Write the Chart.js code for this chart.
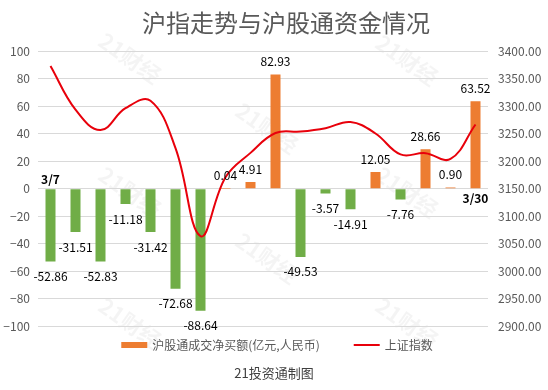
<!DOCTYPE html>
<html>
<head>
<meta charset="utf-8">
<script src="https://cdn.jsdelivr.net/npm/chart.js@4.4.1/dist/chart.umd.min.js"></script>
<style>
  html, body { margin: 0; padding: 0; background: #fff; }
  #wrap { width: 548px; height: 390px; position: relative; }
</style>
</head>
<body>
<div id="wrap"><canvas id="chart"></canvas></div>
<script>
// =============================================================================
// DATA
// =============================================================================

const dates = ['3/7', '3/8', '3/9', '3/10', '3/11', '3/14', '3/15', '3/16', '3/17',
  '3/18', '3/21', '3/22', '3/23', '3/24', '3/25', '3/28', '3/29', '3/30'];

// 沪股通成交净买额 (亿元)
const netBuy = [-52.86, -31.51, -52.83, -11.18, -31.42, -72.68, -88.64, 0.04, 4.91,
  82.93, -49.53, -3.57, -14.91, 12.05, -7.76, 28.66, 0.90, 63.52];

// 上证指数 close
const shIndex = [3372.86, 3293.53, 3256.39, 3296.09, 3309.75, 3223.53, 3063.97, 3170.71, 3215.04,
  3251.07, 3253.69, 3259.86, 3271.03, 3250.26, 3212.24, 3214.50, 3203.94, 3266.60];

const leftTicks = [-100, -80, -60, -40, -20, 0, 20, 40, 60, 80, 100];
const rightTicks = [2900, 2950, 3000, 3050, 3100, 3150, 3200, 3250, 3300, 3350, 3400];

const seriesNames = ['沪股通成交净买额(亿元,人民币)', '上证指数'];
const titleText = '沪指走势与沪股通资金情况';
const footerText = '21投资通制图';
const watermarkText = '21财经';

// =============================================================================
// STYLE
// =============================================================================

const FONT = '"Microsoft YaHei", "Noto Sans CJK SC", "Liberation Sans", sans-serif';
const GREEN = '#70AD47';
const ORANGE = '#ED7D31';
const RED = '#E8000B';
const AXIS_TEXT = '#595959';
const GRID = '#D9D9D9';

Chart.defaults.font.family = FONT;

// =============================================================================
// PLUGIN: watermark, title, bar value labels, first/last date, legend
// =============================================================================

const decorPlugin = {
  id: 'decor',
  beforeDraw(chart) {
    const ctx = chart.ctx;
    const spots = [[130, 58], [407, 60], [267, 128], [130, 192], [407, 192], [267, 258], [130, 323], [407, 323]];
    ctx.save();
    ctx.fillStyle = 'rgba(0,0,0,0.045)';
    ctx.font = 'bold 22px ' + FONT;
    ctx.textAlign = 'center';
    ctx.textBaseline = 'middle';
    spots.forEach(([x, y]) => {
      ctx.save();
      ctx.translate(x, y);
      ctx.rotate(35 * Math.PI / 180);
      ctx.fillText(watermarkText, 0, 0);
      ctx.restore();
    });

    // title (sits a little right of the canvas centre in the original)
    ctx.fillStyle = AXIS_TEXT;
    ctx.font = '24px ' + FONT;
    ctx.fillText(titleText, 286, 23);
    ctx.restore();
  },
  afterDatasetsDraw(chart) {
    const ctx = chart.ctx;
    const meta = chart.getDatasetMeta(1);
    ctx.save();
    ctx.font = '12px ' + FONT;
    ctx.fillStyle = '#000';
    ctx.textAlign = 'center';
    ctx.textBaseline = 'middle';
    meta.data.forEach((el, i) => {
      const v = netBuy[i];
      const y = v >= 0 ? el.y - 13 : el.y + 15;
      ctx.fillText(v.toFixed(2), el.x, y);
    });

    // first / last date labels
    const xs = chart.scales.x, ys = chart.scales.y;
    const zero = ys.getPixelForValue(0);
    ctx.font = 'bold 12px ' + FONT;
    ctx.fillText(dates[0], xs.getPixelForValue(0), zero - 9);
    ctx.fillText(dates[dates.length - 1], xs.getPixelForValue(dates.length - 1), zero + 10);
    ctx.restore();
  },
  afterDraw(chart) {
    const ctx = chart.ctx;
    ctx.save();
    ctx.font = '12px ' + FONT;
    ctx.textBaseline = 'middle';
    ctx.textAlign = 'left';
    const w1 = ctx.measureText(seriesNames[0]).width;
    const w2 = ctx.measureText(seriesNames[1]).width;
    const total = 26 + 5 + w1 + 34 + 26 + 5 + w2;
    let x = 277 - total / 2;
    const y = 345;
    ctx.fillStyle = ORANGE;
    ctx.fillRect(x, y - 3, 26, 6);
    ctx.fillStyle = AXIS_TEXT;
    ctx.fillText(seriesNames[0], x + 31, y);
    x += 31 + w1 + 34;
    ctx.strokeStyle = RED;
    ctx.lineWidth = 2;
    ctx.beginPath();
    ctx.moveTo(x, y);
    ctx.lineTo(x + 26, y);
    ctx.stroke();
    ctx.fillText(seriesNames[1], x + 31, y);
    ctx.restore();
  }
};

// =============================================================================
// CHART
// =============================================================================

new Chart(document.getElementById('chart'), {
  data: {
    labels: dates,
    datasets: [
      {
        type: 'line',
        label: seriesNames[1],
        data: shIndex,
        yAxisID: 'y1',
        borderColor: RED,
        borderWidth: 2,
        pointRadius: 0,
        tension: 0.4,
        fill: false,
        order: 0
      },
      {
        type: 'bar',
        label: seriesNames[0],
        data: netBuy,
        yAxisID: 'y',
        backgroundColor: (c) => (netBuy[c.dataIndex] >= 0 ? ORANGE : GREEN),
        categoryPercentage: 0.8,
        barPercentage: 0.5,
        order: 1
      }
    ]
  },
  options: {
    responsive: true,
    maintainAspectRatio: false,
    animation: false,
    layout: { padding: { top: 51 } },
    plugins: {
      legend: { display: false },
      tooltip: { enabled: false },
      title: { display: false },
      subtitle: {
        display: true,
        position: 'bottom',
        text: footerText,
        color: '#404040',
        font: { size: 13, weight: 'normal', family: FONT },
        padding: { top: 39, bottom: 9 }
      }
    },
    scales: {
      x: {
        display: false,
        offset: true
      },
      y: {
        position: 'left',
        min: leftTicks[0],
        max: leftTicks[leftTicks.length - 1],
        afterFit: (s) => { s.width = 38; },
        afterBuildTicks: (s) => { s.ticks = leftTicks.map(v => ({ value: v })); },
        grid: { color: GRID, drawTicks: false },
        border: { display: false },
        ticks: {
          color: AXIS_TEXT,
          font: { size: 12 },
          padding: 8,
          callback: (v) => String(v).replace('-', '\u2212')
        }
      },
      y1: {
        position: 'right',
        min: rightTicks[0],
        max: rightTicks[rightTicks.length - 1],
        afterFit: (s) => { s.width = 60; },
        afterBuildTicks: (s) => { s.ticks = rightTicks.map(v => ({ value: v })); },
        grid: { display: false, drawTicks: false },
        border: { display: false },
        ticks: {
          color: AXIS_TEXT,
          font: { size: 12 },
          padding: 10,
          callback: (v) => Number(v).toFixed(2)
        }
      }
    }
  },
  plugins: [decorPlugin]
});
</script>
</body>
</html>
